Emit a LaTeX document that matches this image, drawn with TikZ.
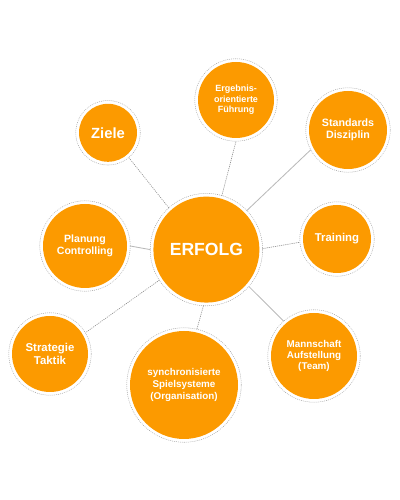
\documentclass[tikz,border=0pt]{standalone}
\usepackage{fontspec}
\setmainfont{Liberation Sans}
\usetikzlibrary{calc}
\definecolor{erfolgorange}{RGB}{252,154,0}
\definecolor{ringgrau}{RGB}{165,165,165}
\definecolor{liniengrau}{RGB}{185,185,185}
\begin{document}
\begin{tikzpicture}[line cap=round,line join=round,
  bubble/.style={circle,fill=erfolgorange,text=white,align=center,inner sep=0pt,outer sep=2.3pt},
  ring/.style={ringgrau,densely dotted,line width=0.4pt},
  punktlinie/.style={gray!85,densely dotted,line width=0.5pt},
  volllinie/.style={liniengrau,line width=0.6pt}]
  \useasboundingbox (0,0) rectangle (10,12.5);
  % Mitte: ERFOLG, rundherum die Felder
  \node[bubble,minimum size=2.65cm,font=\bfseries\fontsize{12.5}{14}\selectfont] (erfolg) at (5.16,6.26) {ERFOLG};
  \node[bubble,minimum size=1.9cm,font=\bfseries\fontsize{6.4}{7.4}\selectfont] (fuehrung) at (5.9,10.0) {Ergebnis-\\orientierte\\Führung};
  \node[bubble,minimum size=1.95cm,font=\bfseries\fontsize{7.6}{8.8}\selectfont] (standards) at (8.7,9.25) {Standards\\Disziplin};
  \node[bubble,minimum size=1.45cm,font=\bfseries\fontsize{10.5}{12}\selectfont] (ziele) at (2.7,9.18) {Ziele};
  \node[bubble,minimum size=2.1cm,font=\bfseries\fontsize{7.5}{8.7}\selectfont] (planung) at (2.125,6.35) {Planung\\Controlling};
  \node[bubble,minimum size=1.7cm,font=\bfseries\fontsize{8.1}{9.3}\selectfont] (training) at (8.425,6.525) {Training};
  \node[bubble,minimum size=1.9cm,font=\bfseries\fontsize{8.1}{9.4}\selectfont] (strategie) at (1.25,3.65) {Strategie\\Taktik};
  \node[bubble,minimum size=2.7cm,font=\bfseries\fontsize{7}{8.2}\selectfont] (synchron) at (4.6,2.875) {synchronisierte\\Spielsysteme\\(Organisation)};
  \node[bubble,minimum size=2.15cm,font=\bfseries\fontsize{7}{8.1}\selectfont] (mannschaft) at (7.85,3.6) {Mannschaft\\Aufstellung\\(Team)};
  % gepunktete Ringe
  \foreach \k in {erfolg,fuehrung,standards,ziele,planung,training,strategie,synchron,mannschaft}
    \draw[ring] let \p1=($(\k.north)-(\k.center)$) in (\k.center) circle[radius=\y1];
  % Verbindungen zur Mitte
  \draw[punktlinie] (erfolg.132) -- (ziele.-50);
  \draw[punktlinie] (erfolg.74) -- (fuehrung.-90);
  \draw[volllinie] (erfolg.44) -- (standards.208);
  \draw[punktlinie] (erfolg.1) -- (training.185);
  \draw[volllinie] (erfolg.-41) -- (mannschaft.131);
  \draw[punktlinie] (erfolg.-93) -- (synchron.77);
  \draw[punktlinie] (erfolg.213) -- (strategie.31);
  \draw[volllinie] (erfolg.west) -- (planung.east);
\end{tikzpicture}
\end{document}
